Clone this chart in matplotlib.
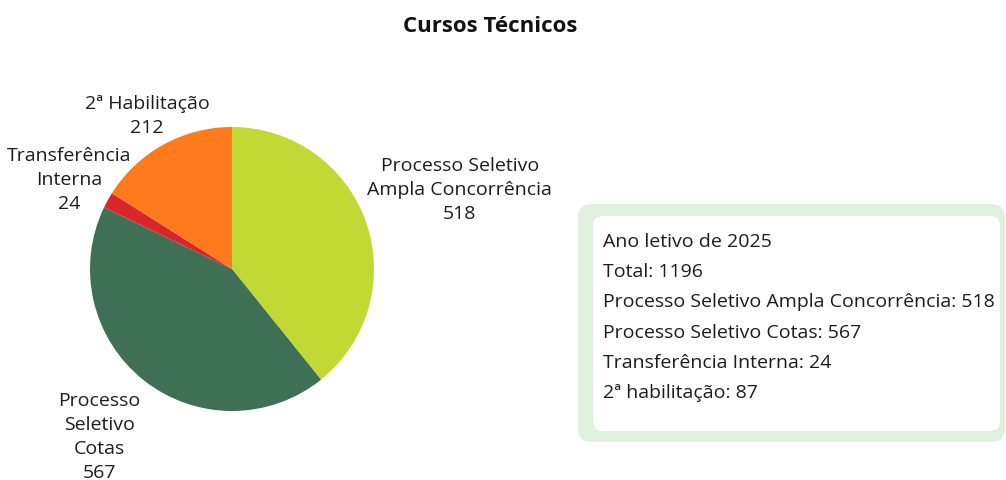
import matplotlib.pyplot as plt
from matplotlib.patches import FancyBboxPatch
import numpy as np

plt.rcParams['font.family'] = ['Open Sans', 'DejaVu Sans']

# data
labels = ['Processo Seletivo\nAmpla Concorrência', 'Processo\nSeletivo\nCotas',
          'Transferência\nInterna', '2ª Habilitação']
values = [518, 567, 24, 212]
colors = ['#c2d935', '#3f6f54', '#d9262b', '#ff7a1c']
label_dist = [1.70, 1.50, 1.31, 1.24]

info_lines = ['Ano letivo de 2025', 'Total: 1196',
              'Processo Seletivo Ampla Concorrência: 518',
              'Processo Seletivo Cotas: 567',
              'Transferência Interna: 24',
              '2ª habilitação: 87']

W, H = 1006, 481
fig = plt.figure(figsize=(W / 100, H / 100), dpi=100)

# pie axes: center (232, 270) px, radius 142 px
cx, cy, r = 232, 270, 142
ax = fig.add_axes([(cx - r) / W, (H - cy - r) / H, 2 * r / W, 2 * r / H])
wedges, _ = ax.pie(values, colors=colors, startangle=90, counterclock=False,
                   radius=1, wedgeprops=dict(linewidth=0))
ax.set_xlim(-1, 1)
ax.set_ylim(-1, 1)
ax.axis('off')

for w, lab, v, d in zip(wedges, labels, values, label_dist):
    ang = np.deg2rad((w.theta1 + w.theta2) / 2)
    ax.text(d * np.cos(ang), d * np.sin(ang), f'{lab}\n{v}', ha='center', va='center',
            fontsize=14, color='#1c1c1c', linespacing=1.42, clip_on=False)

fig.text(490 / W, 1 - 27 / H, 'Cursos Técnicos', ha='center', va='center',
         fontsize=16, fontweight='bold', color='#111111')

# info box
bx = fig.add_axes([0, 0, 1, 1])
bx.set_xlim(0, W)
bx.set_ylim(H, 0)
bx.axis('off')
bx.add_patch(FancyBboxPatch((578 + 14, 205 + 14), 427 - 28, 238 - 28,
                            boxstyle='round,pad=14', facecolor='#dff0de', edgecolor='none'))
bx.add_patch(FancyBboxPatch((593 + 10, 217 + 10), 407 - 20, 215 - 20,
                            boxstyle='round,pad=10', facecolor='white', edgecolor='none'))
for i, line in enumerate(info_lines):
    bx.text(603, 242 + i * 30.2, line, ha='left', va='center', fontsize=14, color='#1c1c1c')

fig.savefig('out.png', dpi=100)
